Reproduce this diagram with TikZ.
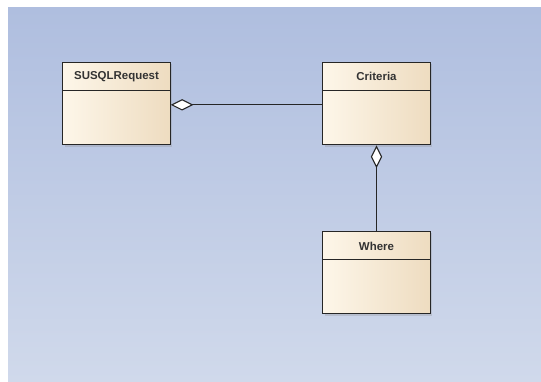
\documentclass[tikz,border=0pt]{standalone}
\usepackage{fontspec}
\setmainfont{Liberation Sans}
\usetikzlibrary{arrows.meta,shadows}
\definecolor{bgtop}{HTML}{AFBEDF}
\definecolor{bgbot}{HTML}{D0D9EB}
\definecolor{clsL}{HTML}{FDF6E9}
\definecolor{clsR}{HTML}{EEDCC0}
\tikzset{
  umlclass/.style={draw=black!85, line width=0.9pt, left color=clsL, right color=clsR,
    minimum width=80.5pt, minimum height=62pt, inner sep=0pt,
    drop shadow={shadow xshift=1.5pt, shadow yshift=-1.5pt, opacity=0.25}},
  clsname/.style={font=\bfseries\fontsize{8.6}{10}\selectfont, text=black!80},
  aggr/.style={line width=0.8pt, draw=black!85,
    {Diamond[open, length=17pt, width=8.5pt, fill=white]}-},
}
\begin{document}
\begin{tikzpicture}[x=0.75pt,y=-0.75pt]
  \useasboundingbox (0,0) rectangle (541,381);
  \fill[white] (0,0) rectangle (541,381);
  \shade[top color=bgtop, bottom color=bgbot] (8,8) rectangle (541,381);

  % classes
  \node[umlclass] (req) at (116.5,103.5) {};
  \node[umlclass] (crit) at (376.5,103.5) {};
  \node[umlclass] (where) at (376.5,272.5) {};

  % compartment dividers
  \foreach \n in {req,crit,where}{
    \draw[black!85, line width=0.8pt] ([yshift=-22pt]\n.north west) -- ([yshift=-22pt]\n.north east);
  }
  \node[clsname] (reqname) at ([yshift=-11.5pt]req.north) {SUSQLRequest};
  \node[clsname] (critname) at ([yshift=-11.5pt]crit.north) {Criteria};
  \node[clsname] (wherename) at ([yshift=-11.5pt]where.north) {Where};

  % aggregations
  \coordinate (reqport) at ([yshift=-1pt]req.east);
  \draw[aggr] (reqport) -- (reqport -| crit.west);
  \draw[aggr] (crit.south) -- (where.north);
\end{tikzpicture}
\end{document}
